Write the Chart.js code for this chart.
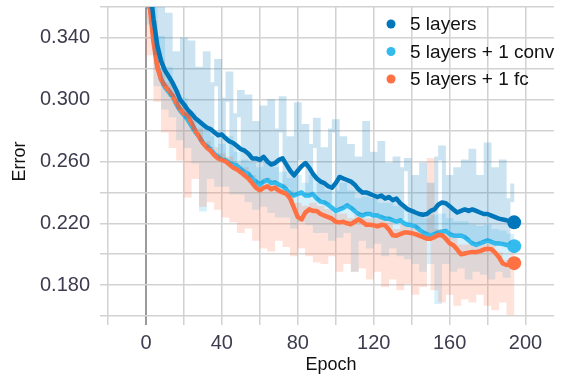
<!DOCTYPE html>
<html>
<head>
<meta charset="utf-8">
<script src="https://cdn.jsdelivr.net/npm/chart.js@4.4.1/dist/chart.umd.min.js"></script>
<style>
  html, body { margin: 0; padding: 0; background: #fff; }
  #chart { display: block; }
</style>
</head>
<body>
<canvas id="chart" width="561" height="378"></canvas>
<script>
// epochs sampled every 2
const epochs = [
  0, 2, 4, 6, 8, 10, 12, 14, 16, 18, 20, 22, 24, 26, 28, 30, 32, 34, 36, 38,
  40, 42, 44, 46, 48, 50, 52, 54, 56, 58, 60, 62, 64, 66, 68, 70, 72, 74, 76, 78,
  80, 82, 84, 86, 88, 90, 92, 94, 96, 98, 100, 102, 104, 106, 108, 110, 112, 114, 116, 118,
  120, 122, 124, 126, 128, 130, 132, 134, 136, 138, 140, 142, 144, 146, 148, 150, 152, 154, 156, 158,
  160, 162, 164, 166, 168, 170, 172, 174, 176, 178, 180, 182, 184, 186, 188, 190, 192, 194
];

const seriesNames = ["5 layers", "5 layers + 1 conv", "5 layers + 1 fc"];

// smoothed curves
const smoothFive = [
  0.430, 0.375, 0.352, 0.335, 0.325, 0.319, 0.315, 0.311, 0.306, 0.300,
  0.297, 0.2935, 0.291, 0.288, 0.286, 0.284, 0.282, 0.281, 0.279, 0.277,
  0.2775, 0.275, 0.273, 0.272, 0.270, 0.268, 0.267, 0.265, 0.262, 0.262,
  0.261, 0.263, 0.260, 0.258, 0.259, 0.261, 0.262, 0.258, 0.254, 0.251,
  0.254, 0.257, 0.259, 0.256, 0.252, 0.249, 0.247, 0.246, 0.244, 0.243,
  0.246, 0.250, 0.249, 0.248, 0.247, 0.245, 0.242, 0.240, 0.240, 0.239,
  0.238, 0.237, 0.238, 0.236, 0.237, 0.235, 0.236, 0.233, 0.231, 0.229,
  0.228, 0.227, 0.226, 0.2255, 0.226, 0.228, 0.229, 0.232, 0.2335, 0.233,
  0.231, 0.229, 0.227, 0.228, 0.229, 0.228, 0.229, 0.228, 0.227, 0.226,
  0.226, 0.225, 0.224, 0.223, 0.2225, 0.222, 0.221, 0.2206
];
const smoothConv = [
  0.420, 0.365, 0.340, 0.322, 0.313, 0.308, 0.305, 0.302, 0.297, 0.293,
  0.290, 0.287, 0.283, 0.279, 0.276, 0.272, 0.270, 0.268, 0.265, 0.263,
  0.261, 0.261, 0.259, 0.258, 0.2574, 0.255, 0.253, 0.252, 0.249, 0.247,
  0.245, 0.247, 0.248, 0.246, 0.2465, 0.245, 0.244, 0.242, 0.239, 0.238,
  0.239, 0.240, 0.238, 0.238, 0.239, 0.236, 0.234, 0.2335, 0.232, 0.230,
  0.228, 0.229, 0.230, 0.2316, 0.230, 0.228, 0.226, 0.225, 0.226, 0.226,
  0.225, 0.225, 0.224, 0.223, 0.223, 0.222, 0.221, 0.222, 0.220, 0.219,
  0.2187, 0.218, 0.216, 0.214, 0.213, 0.212, 0.213, 0.214, 0.2145, 0.215,
  0.213, 0.212, 0.212, 0.212, 0.211, 0.209, 0.207, 0.206, 0.207, 0.208,
  0.209, 0.208, 0.207, 0.207, 0.2065, 0.206, 0.2055, 0.2052
];
const smoothFc = [
  0.410, 0.360, 0.337, 0.321, 0.313, 0.309, 0.306, 0.303, 0.298, 0.294,
  0.291, 0.2897, 0.285, 0.280, 0.276, 0.272, 0.269, 0.267, 0.264, 0.262,
  0.261, 0.260, 0.258, 0.256, 0.2548, 0.253, 0.251, 0.249, 0.246, 0.243,
  0.2413, 0.243, 0.244, 0.242, 0.2432, 0.241, 0.240, 0.239, 0.236, 0.230,
  0.224, 0.2226, 0.227, 0.229, 0.228, 0.228, 0.226, 0.225, 0.224, 0.223,
  0.221, 0.2206, 0.221, 0.220, 0.2194, 0.221, 0.2226, 0.221, 0.219, 0.219,
  0.2187, 0.218, 0.219, 0.2187, 0.216, 0.2123, 0.212, 0.213, 0.214, 0.214,
  0.2136, 0.213, 0.212, 0.211, 0.210, 0.210, 0.211, 0.2125, 0.2123, 0.210,
  0.207, 0.2058, 0.203, 0.200, 0.2005, 0.201, 0.2015, 0.2013, 0.202, 0.203,
  0.2035, 0.2032, 0.201, 0.198, 0.194, 0.193, 0.1935, 0.1942
];

// raw (unsmoothed) values, drawn faint behind
const rawFive = [
  0.440, 0.360, 0.370, 0.330, 0.360, 0.310, 0.355, 0.303, 0.330, 0.295,
  0.339, 0.289, 0.337, 0.281, 0.320, 0.274, 0.330, 0.270, 0.310, 0.325,
  0.263, 0.300, 0.317, 0.260, 0.290, 0.305, 0.255, 0.302, 0.251, 0.285,
  0.247, 0.295, 0.250, 0.299, 0.248, 0.280, 0.301, 0.244, 0.275, 0.240,
  0.297, 0.262, 0.283, 0.240, 0.270, 0.287, 0.236, 0.268, 0.234, 0.280,
  0.286, 0.231, 0.275, 0.233, 0.270, 0.230, 0.262, 0.227, 0.285, 0.228,
  0.265, 0.227, 0.272, 0.225, 0.258, 0.224, 0.262, 0.224, 0.255, 0.261,
  0.221, 0.250, 0.218, 0.258, 0.215, 0.245, 0.215, 0.262, 0.269, 0.217,
  0.250, 0.214, 0.255, 0.214, 0.260, 0.211, 0.267, 0.208, 0.250, 0.210,
  0.271, 0.210, 0.255, 0.209, 0.260, 0.208, 0.235, 0.2445
];
const rawConv = [
  0.430, 0.350, 0.360, 0.310, 0.340, 0.295, 0.320, 0.290, 0.305, 0.275,
  0.300, 0.270, 0.290, 0.260, 0.285, 0.229, 0.280, 0.250, 0.275, 0.245,
  0.270, 0.245, 0.275, 0.240, 0.265, 0.240, 0.260, 0.235, 0.258, 0.230,
  0.255, 0.232, 0.258, 0.228, 0.255, 0.225, 0.252, 0.225, 0.248, 0.218,
  0.250, 0.222, 0.245, 0.220, 0.250, 0.215, 0.245, 0.215, 0.240, 0.210,
  0.240, 0.212, 0.245, 0.215, 0.240, 0.190, 0.235, 0.210, 0.236, 0.205,
  0.235, 0.208, 0.232, 0.200, 0.232, 0.205, 0.230, 0.200, 0.230, 0.198,
  0.228, 0.195, 0.226, 0.190, 0.222, 0.195, 0.224, 0.169, 0.225, 0.195,
  0.222, 0.190, 0.220, 0.192, 0.220, 0.185, 0.218, 0.190, 0.217, 0.188,
  0.218, 0.185, 0.215, 0.190, 0.214, 0.186, 0.212, 0.205
];
const rawFc = [
  0.420, 0.330, 0.350, 0.300, 0.325, 0.280, 0.310, 0.270, 0.300, 0.262,
  0.295, 0.238, 0.285, 0.250, 0.280, 0.232, 0.272, 0.235, 0.268, 0.230,
  0.264, 0.225, 0.262, 0.222, 0.258, 0.215, 0.255, 0.218, 0.250, 0.210,
  0.245, 0.205, 0.248, 0.203, 0.245, 0.210, 0.244, 0.206, 0.240, 0.200,
  0.232, 0.205, 0.230, 0.200, 0.232, 0.196, 0.230, 0.195, 0.228, 0.200,
  0.225, 0.190, 0.225, 0.195, 0.222, 0.190, 0.226, 0.192, 0.222, 0.185,
  0.222, 0.190, 0.222, 0.180, 0.220, 0.185, 0.215, 0.178, 0.218, 0.182,
  0.216, 0.175, 0.215, 0.180, 0.214, 0.261, 0.178, 0.215, 0.170, 0.214,
  0.175, 0.210, 0.168, 0.205, 0.172, 0.205, 0.170, 0.204, 0.175, 0.206,
  0.168, 0.206, 0.165, 0.200, 0.170, 0.195, 0.162, 0.200
];

// axis ticks (gridlines every 20 / 0.02, labels every 40 / 0.04)
const xGridTicks = [-20, 0, 20, 40, 60, 80, 100, 120, 140, 160, 180, 200];
const xLabelTicks = [0, 40, 80, 120, 160, 200];
const yGridTicks = [0.16, 0.18, 0.20, 0.22, 0.24, 0.26, 0.28, 0.30, 0.32, 0.34, 0.36];
const yLabelTicks = [0.18, 0.22, 0.26, 0.30, 0.34];

const COLORS = ["#0077bb", "#33bbee", "#ff7043"];
const RAW_COLORS = ["rgba(0,119,187,0.2)", "rgba(51,187,238,0.2)", "rgba(255,112,67,0.2)"];
const FONT = "'Liberation Sans', Arial, sans-serif";
const lastIdx = epochs.length - 1;

Chart.defaults.font.family = FONT;

function pts(values) {
    return values.map((v, i) => ({ x: epochs[i], y: v }));
}

function rawSet(values, i, order) {
    return {
        label: seriesNames[i] + " (raw)",
        data: pts(values),
        borderColor: RAW_COLORS[i],
        borderWidth: 4,
        stepped: "middle",
        pointRadius: 0,
        order
    };
}

function smoothSet(values, i, order) {
    return {
        label: seriesNames[i],
        data: pts(values),
        borderColor: COLORS[i],
        backgroundColor: COLORS[i],
        borderWidth: 4.5,
        borderJoinStyle: "round",
        pointRadius: ctx => ctx.dataIndex === lastIdx ? 7 : 0,
        pointBorderWidth: 0,
        pointBackgroundColor: COLORS[i],
        tension: 0,
        order
    };
}

// legend sits inside the plot, top right
const cornerLegend = {
    id: "cornerLegend",
    afterDraw(chart) {
        const ctx = chart.ctx;
        const x0 = chart.chartArea.right - 163;
        ctx.save();
        ctx.font = "19px " + FONT;
        ctx.textBaseline = "middle";
        seriesNames.forEach((name, i) => {
            const y = 24 + i * 27.5;
            ctx.fillStyle = COLORS[i];
            ctx.beginPath();
            ctx.arc(x0, y, 4.5, 0, Math.PI * 2);
            ctx.fill();
            ctx.fillStyle = "#111";
            ctx.fillText(name, x0 + 19, y + 1);
        });
        ctx.restore();
    }
};

const isLabel = (list, v) => list.some(l => Math.abs(l - v) < 1e-9);

new Chart(document.getElementById("chart"), {
    type: "line",
    data: {
        datasets: [
            rawSet(rawConv, 1, 6),
            rawSet(rawFc, 2, 5),
            smoothSet(smoothConv, 1, 4),
            smoothSet(smoothFc, 2, 3),
            rawSet(rawFive, 0, 2),
            smoothSet(smoothFive, 0, 1)
        ]
    },
    options: {
        responsive: false,
        animation: false,
        devicePixelRatio: 1,
        layout: { padding: { top: 4, right: 0, bottom: 0, left: 0 } },
        plugins: {
            legend: { display: false },
            tooltip: { enabled: false }
        },
        scales: {
            x: {
                type: "linear",
                min: -20,
                max: 215,
                afterBuildTicks: s => { s.ticks = xGridTicks.map(v => ({ value: v })); },
                afterFit: s => { s.height = 62; s.paddingLeft = 0; s.paddingRight = 0; },
                ticks: {
                    autoSkip: false,
                    maxRotation: 0,
                    padding: 6,
                    color: "#3c3c4e",
                    font: { size: 20 },
                    callback: v => isLabel(xLabelTicks, v) ? String(v) : ""
                },
                grid: {
                    color: c => (c.tick && c.tick.value === 0) ? "#9a9a9a" : "#d2d2d2",
                    lineWidth: c => (c.tick && c.tick.value === 0) ? 2 : 1.5,
                    tickLength: 9
                },
                border: { display: false },
                title: {
                    display: true,
                    text: "Epoch",
                    color: "#111",
                    font: { size: 18 },
                    padding: { top: 0, bottom: 2 }
                }
            },
            y: {
                type: "linear",
                min: 0.16,
                max: 0.36,
                afterBuildTicks: s => { s.ticks = yGridTicks.map(v => ({ value: v })); },
                afterFit: s => { s.width = 108; s.paddingTop = 0; s.paddingBottom = 0; },
                ticks: {
                    autoSkip: false,
                    padding: 10,
                    color: "#3c3c4e",
                    font: { size: 20 },
                    callback: v => isLabel(yLabelTicks, v) ? v.toFixed(3) : ""
                },
                grid: {
                    color: "#d2d2d2",
                    lineWidth: 1.5,
                    tickLength: 8
                },
                border: { display: false },
                title: {
                    display: true,
                    text: "Error",
                    color: "#111",
                    font: { size: 18 },
                    padding: { top: 9, bottom: 0 }
                }
            }
        }
    },
    plugins: [cornerLegend]
});
</script>
</body>
</html>
